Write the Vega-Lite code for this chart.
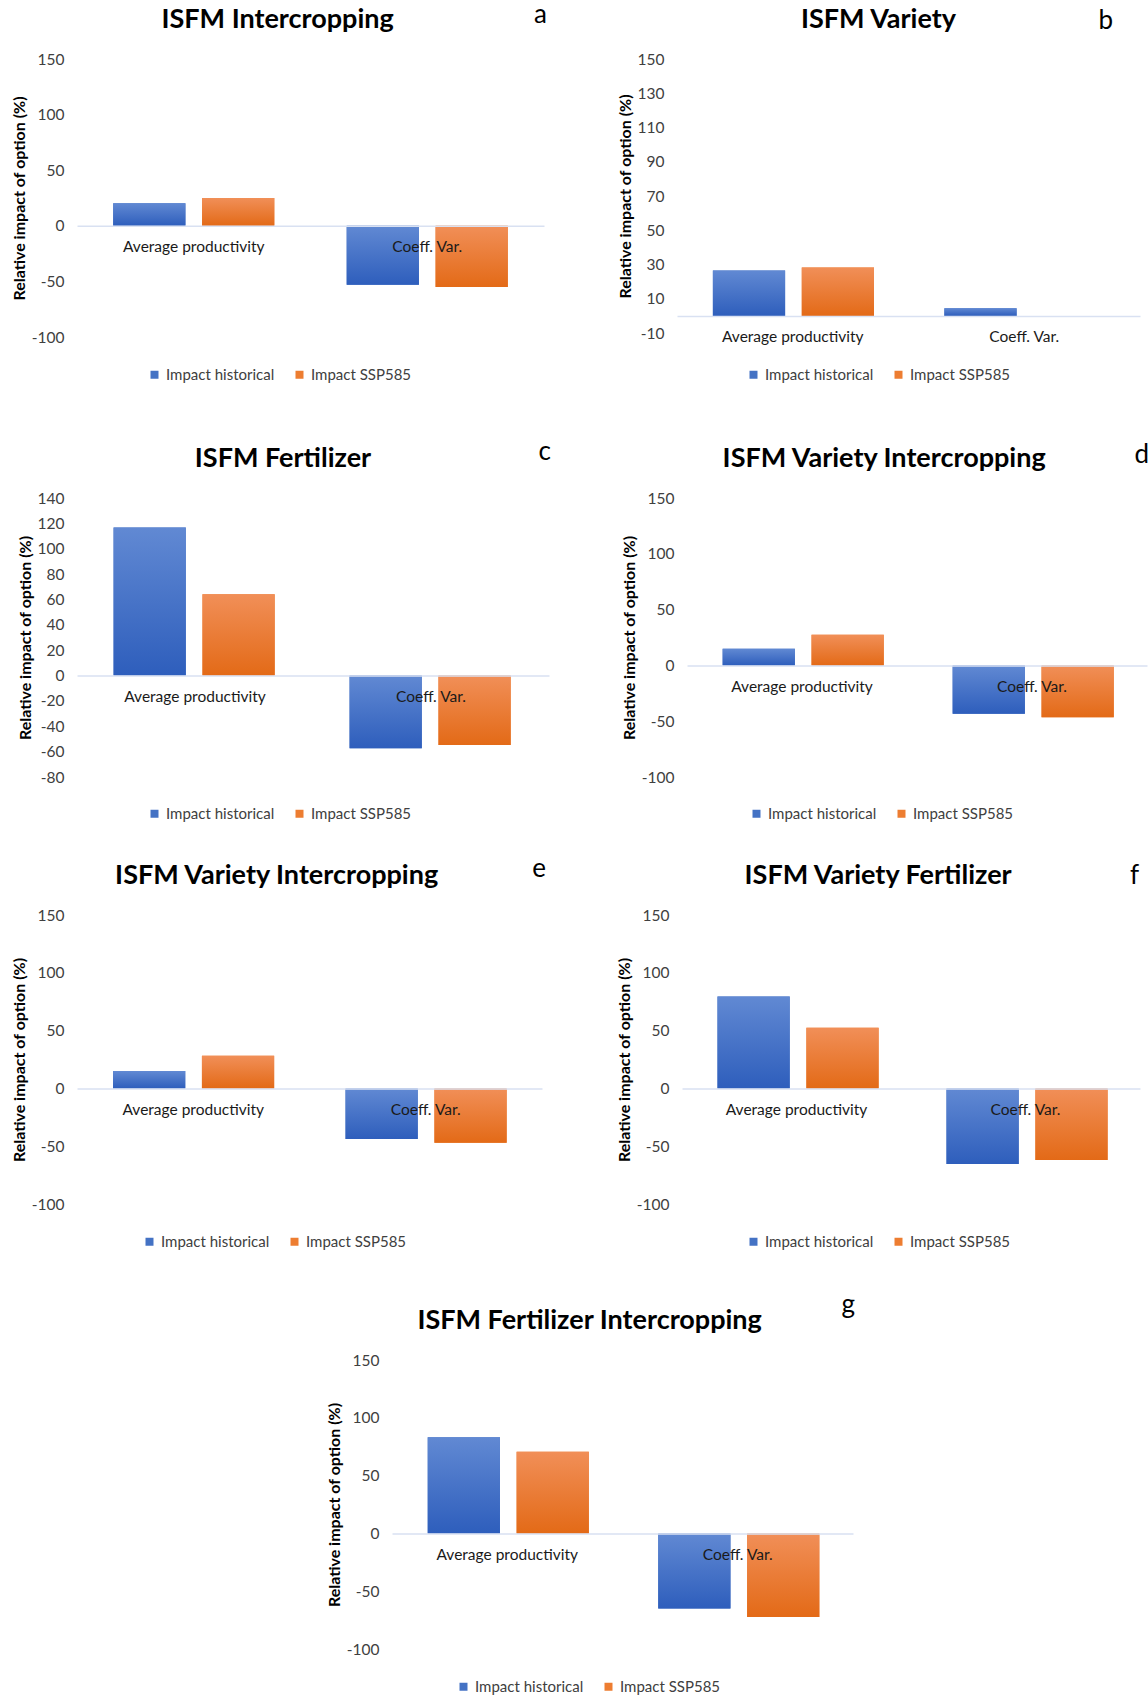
{
  "$schema": "https://vega.github.io/schema/vega-lite/v6.json",
  "background": "white",
  "padding": {"left": 11, "top": 2, "right": 5, "bottom": 5},
  "data": {"values": [
    {"panel": "a", "metric": "Average productivity", "series": "Impact historical", "value": 20.3},
    {"panel": "a", "metric": "Average productivity", "series": "Impact SSP585", "value": 25.1},
    {"panel": "a", "metric": "Coeff. Var.", "series": "Impact historical", "value": -53.0},
    {"panel": "a", "metric": "Coeff. Var.", "series": "Impact SSP585", "value": -55.1},
    {"panel": "b", "metric": "Average productivity", "series": "Impact historical", "value": 26.5},
    {"panel": "b", "metric": "Average productivity", "series": "Impact SSP585", "value": 28.3},
    {"panel": "b", "metric": "Coeff. Var.", "series": "Impact historical", "value": 4.5},
    {"panel": "b", "metric": "Coeff. Var.", "series": "Impact SSP585", "value": 0.0},
    {"panel": "c", "metric": "Average productivity", "series": "Impact historical", "value": 116.7},
    {"panel": "c", "metric": "Average productivity", "series": "Impact SSP585", "value": 64.2},
    {"panel": "c", "metric": "Coeff. Var.", "series": "Impact historical", "value": -57.3},
    {"panel": "c", "metric": "Coeff. Var.", "series": "Impact SSP585", "value": -54.7},
    {"panel": "d", "metric": "Average productivity", "series": "Impact historical", "value": 15.0},
    {"panel": "d", "metric": "Average productivity", "series": "Impact SSP585", "value": 27.5},
    {"panel": "d", "metric": "Coeff. Var.", "series": "Impact historical", "value": -43.3},
    {"panel": "d", "metric": "Coeff. Var.", "series": "Impact SSP585", "value": -46.4},
    {"panel": "e", "metric": "Average productivity", "series": "Impact historical", "value": 15.0},
    {"panel": "e", "metric": "Average productivity", "series": "Impact SSP585", "value": 28.3},
    {"panel": "e", "metric": "Coeff. Var.", "series": "Impact historical", "value": -43.8},
    {"panel": "e", "metric": "Coeff. Var.", "series": "Impact SSP585", "value": -47.0},
    {"panel": "f", "metric": "Average productivity", "series": "Impact historical", "value": 79.6},
    {"panel": "f", "metric": "Average productivity", "series": "Impact SSP585", "value": 52.5},
    {"panel": "f", "metric": "Coeff. Var.", "series": "Impact historical", "value": -65.5},
    {"panel": "f", "metric": "Coeff. Var.", "series": "Impact SSP585", "value": -61.9},
    {"panel": "g", "metric": "Average productivity", "series": "Impact historical", "value": 83.2},
    {"panel": "g", "metric": "Average productivity", "series": "Impact SSP585", "value": 70.7},
    {"panel": "g", "metric": "Coeff. Var.", "series": "Impact historical", "value": -65.0},
    {"panel": "g", "metric": "Coeff. Var.", "series": "Impact SSP585", "value": -72.3}
  ]},
  "spacing": 34,
  "resolve": {"scale": {"color": "independent"}, "legend": {"color": "independent"}},
  "vconcat": [
    {"spacing": 70, "resolve": {"scale": {"color": "independent"}, "legend": {"color": "independent"}}, "hconcat": [
      {"title": {"text": "a", "anchor": "end", "offset": -22, "dx": 3, "fontSize": 26, "fontWeight": "normal"},
       "resolve": {"scale": {"color": "independent"}, "legend": {"color": "independent"}},
       "vconcat": [{
        "title": {"text": "ISFM Intercropping"},
        "transform": [{"filter": "datum.panel === 'a'"}],
        "width": 467, "height": 278,
        "encoding": {
          "x": {"field": "metric", "type": "nominal", "sort": ["Average productivity", "Coeff. Var."], "scale": {"paddingInner": 0.31, "paddingOuter": 0.155}, "axis": {"offset": -111.2, "zindex": 1}},
          "xOffset": {"field": "series", "type": "nominal", "sort": ["Impact historical", "Impact SSP585"], "scale": {"paddingInner": 0.1875, "paddingOuter": 0}},
          "y": {"field": "value", "type": "quantitative", "title": "Relative impact of option (%)", "scale": {"domain": [-100, 150], "nice": false, "zero": false}, "axis": {"values": [-100, -50, 0, 50, 100, 150]}}
        },
        "layer": [
          {"mark": "bar", "encoding": {"color": {"field": "series", "type": "nominal", "scale": {"domain": ["Impact historical", "Impact SSP585"], "range": ["#4472c4", "#ed7d31"]}, "legend": {"legendX": 48, "legendY": 286, "padding": 22}}}},
          {"mark": "bar", "encoding": {"fill": {"condition": {"test": "datum.series === 'Impact historical'", "value": {"gradient": "linear", "x1": 0, "y1": 0, "x2": 0, "y2": 1, "stops": [{"offset": 0, "color": "#6189d3"}, {"offset": 1, "color": "#2e5ebc"}]}}, "value": {"gradient": "linear", "x1": 0, "y1": 0, "x2": 0, "y2": 1, "stops": [{"offset": 0, "color": "#f18f58"}, {"offset": 1, "color": "#e36a17"}]}}}}
        ]
      }]},
      {"title": {"text": "b", "anchor": "end", "offset": -28, "dx": -27, "fontSize": 26, "fontWeight": "normal"},
       "resolve": {"scale": {"color": "independent"}, "legend": {"color": "independent"}},
       "vconcat": [{
        "title": {"text": "ISFM Variety"},
        "transform": [{"filter": "datum.panel === 'b'"}],
        "width": 463, "height": 274,
        "encoding": {
          "x": {"field": "metric", "type": "nominal", "sort": ["Average productivity", "Coeff. Var."], "scale": {"paddingInner": 0.31, "paddingOuter": 0.155}, "axis": {"offset": -17.1, "zindex": 1}},
          "xOffset": {"field": "series", "type": "nominal", "sort": ["Impact historical", "Impact SSP585"], "scale": {"paddingInner": 0.1875, "paddingOuter": 0}},
          "y": {"field": "value", "type": "quantitative", "title": "Relative impact of option (%)", "scale": {"domain": [-10, 150], "nice": false, "zero": false}, "axis": {"values": [-10, 10, 30, 50, 70, 90, 110, 130, 150]}}
        },
        "layer": [
          {"mark": "bar", "encoding": {"color": {"field": "series", "type": "nominal", "scale": {"domain": ["Impact historical", "Impact SSP585"], "range": ["#4472c4", "#ed7d31"]}, "legend": {"legendX": 47, "legendY": 286, "padding": 22}}}},
          {"mark": "bar", "encoding": {"fill": {"condition": {"test": "datum.series === 'Impact historical'", "value": {"gradient": "linear", "x1": 0, "y1": 0, "x2": 0, "y2": 1, "stops": [{"offset": 0, "color": "#6189d3"}, {"offset": 1, "color": "#2e5ebc"}]}}, "value": {"gradient": "linear", "x1": 0, "y1": 0, "x2": 0, "y2": 1, "stops": [{"offset": 0, "color": "#f18f58"}, {"offset": 1, "color": "#e36a17"}]}}}}
        ]
      }]}
    ]},
    {"spacing": 70, "resolve": {"scale": {"color": "independent"}, "legend": {"color": "independent"}}, "hconcat": [
      {"title": {"text": "c", "anchor": "end", "offset": -20, "dx": 2, "fontSize": 26, "fontWeight": "normal"},
       "resolve": {"scale": {"color": "independent"}, "legend": {"color": "independent"}},
       "vconcat": [{
        "title": {"text": "ISFM Fertilizer"},
        "transform": [{"filter": "datum.panel === 'c'"}],
        "width": 472, "height": 279,
        "encoding": {
          "x": {"field": "metric", "type": "nominal", "sort": ["Average productivity", "Coeff. Var."], "scale": {"paddingInner": 0.31, "paddingOuter": 0.155}, "axis": {"offset": -101.5, "zindex": 1}},
          "xOffset": {"field": "series", "type": "nominal", "sort": ["Impact historical", "Impact SSP585"], "scale": {"paddingInner": 0.1875, "paddingOuter": 0}},
          "y": {"field": "value", "type": "quantitative", "title": "Relative impact of option (%)", "scale": {"domain": [-80, 140], "nice": false, "zero": false}, "axis": {"values": [-80, -60, -40, -20, 0, 20, 40, 60, 80, 100, 120, 140]}}
        },
        "layer": [
          {"mark": "bar", "encoding": {"color": {"field": "series", "type": "nominal", "scale": {"domain": ["Impact historical", "Impact SSP585"], "range": ["#4472c4", "#ed7d31"]}, "legend": {"legendX": 70, "legendY": 308}}}},
          {"mark": "bar", "encoding": {"fill": {"condition": {"test": "datum.series === 'Impact historical'", "value": {"gradient": "linear", "x1": 0, "y1": 0, "x2": 0, "y2": 1, "stops": [{"offset": 0, "color": "#6189d3"}, {"offset": 1, "color": "#2e5ebc"}]}}, "value": {"gradient": "linear", "x1": 0, "y1": 0, "x2": 0, "y2": 1, "stops": [{"offset": 0, "color": "#f18f58"}, {"offset": 1, "color": "#e36a17"}]}}}}
        ]
      }]},
      {"title": {"text": "d", "anchor": "end", "offset": -23, "dx": 2, "fontSize": 26, "fontWeight": "normal"},
       "resolve": {"scale": {"color": "independent"}, "legend": {"color": "independent"}},
       "vconcat": [{
        "title": {"text": "ISFM Variety Intercropping"},
        "transform": [{"filter": "datum.panel === 'd'"}],
        "width": 460, "height": 279,
        "encoding": {
          "x": {"field": "metric", "type": "nominal", "sort": ["Average productivity", "Coeff. Var."], "scale": {"paddingInner": 0.31, "paddingOuter": 0.155}, "axis": {"offset": -111.6, "zindex": 1}},
          "xOffset": {"field": "series", "type": "nominal", "sort": ["Impact historical", "Impact SSP585"], "scale": {"paddingInner": 0.1875, "paddingOuter": 0}},
          "y": {"field": "value", "type": "quantitative", "title": "Relative impact of option (%)", "scale": {"domain": [-100, 150], "nice": false, "zero": false}, "axis": {"values": [-100, -50, 0, 50, 100, 150]}}
        },
        "layer": [
          {"mark": "bar", "encoding": {"color": {"field": "series", "type": "nominal", "scale": {"domain": ["Impact historical", "Impact SSP585"], "range": ["#4472c4", "#ed7d31"]}, "legend": {"legendX": 62, "legendY": 308}}}},
          {"mark": "bar", "encoding": {"fill": {"condition": {"test": "datum.series === 'Impact historical'", "value": {"gradient": "linear", "x1": 0, "y1": 0, "x2": 0, "y2": 1, "stops": [{"offset": 0, "color": "#6189d3"}, {"offset": 1, "color": "#2e5ebc"}]}}, "value": {"gradient": "linear", "x1": 0, "y1": 0, "x2": 0, "y2": 1, "stops": [{"offset": 0, "color": "#f18f58"}, {"offset": 1, "color": "#e36a17"}]}}}}
        ]
      }]}
    ]},
    {"spacing": 70, "resolve": {"scale": {"color": "independent"}, "legend": {"color": "independent"}}, "hconcat": [
      {"title": {"text": "e", "anchor": "end", "offset": -20, "dx": 4, "fontSize": 26, "fontWeight": "normal"},
       "resolve": {"scale": {"color": "independent"}, "legend": {"color": "independent"}},
       "vconcat": [{
        "title": {"text": "ISFM Variety Intercropping"},
        "transform": [{"filter": "datum.panel === 'e'"}],
        "width": 465, "height": 289,
        "encoding": {
          "x": {"field": "metric", "type": "nominal", "sort": ["Average productivity", "Coeff. Var."], "scale": {"paddingInner": 0.31, "paddingOuter": 0.155}, "axis": {"offset": -115.6, "zindex": 1}},
          "xOffset": {"field": "series", "type": "nominal", "sort": ["Impact historical", "Impact SSP585"], "scale": {"paddingInner": 0.1875, "paddingOuter": 0}},
          "y": {"field": "value", "type": "quantitative", "title": "Relative impact of option (%)", "scale": {"domain": [-100, 150], "nice": false, "zero": false}, "axis": {"values": [-100, -50, 0, 50, 100, 150]}}
        },
        "layer": [
          {"mark": "bar", "encoding": {"color": {"field": "series", "type": "nominal", "scale": {"domain": ["Impact historical", "Impact SSP585"], "range": ["#4472c4", "#ed7d31"]}, "legend": {"legendX": 57, "legendY": 311, "padding": 8}}}},
          {"mark": "bar", "encoding": {"fill": {"condition": {"test": "datum.series === 'Impact historical'", "value": {"gradient": "linear", "x1": 0, "y1": 0, "x2": 0, "y2": 1, "stops": [{"offset": 0, "color": "#6189d3"}, {"offset": 1, "color": "#2e5ebc"}]}}, "value": {"gradient": "linear", "x1": 0, "y1": 0, "x2": 0, "y2": 1, "stops": [{"offset": 0, "color": "#f18f58"}, {"offset": 1, "color": "#e36a17"}]}}}}
        ]
      }]},
      {"title": {"text": "f", "anchor": "end", "offset": -27, "dx": -1, "fontSize": 26, "fontWeight": "normal"},
       "resolve": {"scale": {"color": "independent"}, "legend": {"color": "independent"}},
       "vconcat": [{
        "title": {"text": "ISFM Variety Fertilizer"},
        "transform": [{"filter": "datum.panel === 'f'"}],
        "width": 458, "height": 289,
        "encoding": {
          "x": {"field": "metric", "type": "nominal", "sort": ["Average productivity", "Coeff. Var."], "scale": {"paddingInner": 0.31, "paddingOuter": 0.155}, "axis": {"offset": -115.6, "zindex": 1}},
          "xOffset": {"field": "series", "type": "nominal", "sort": ["Impact historical", "Impact SSP585"], "scale": {"paddingInner": 0.1875, "paddingOuter": 0}},
          "y": {"field": "value", "type": "quantitative", "title": "Relative impact of option (%)", "scale": {"domain": [-100, 150], "nice": false, "zero": false}, "axis": {"values": [-100, -50, 0, 50, 100, 150]}}
        },
        "layer": [
          {"mark": "bar", "encoding": {"color": {"field": "series", "type": "nominal", "scale": {"domain": ["Impact historical", "Impact SSP585"], "range": ["#4472c4", "#ed7d31"]}, "legend": {"legendX": 56, "legendY": 311, "padding": 8}}}},
          {"mark": "bar", "encoding": {"fill": {"condition": {"test": "datum.series === 'Impact historical'", "value": {"gradient": "linear", "x1": 0, "y1": 0, "x2": 0, "y2": 1, "stops": [{"offset": 0, "color": "#6189d3"}, {"offset": 1, "color": "#2e5ebc"}]}}, "value": {"gradient": "linear", "x1": 0, "y1": 0, "x2": 0, "y2": 1, "stops": [{"offset": 0, "color": "#f18f58"}, {"offset": 1, "color": "#e36a17"}]}}}}
        ]
      }]}
    ]},
    {"spacing": 248, "resolve": {"scale": {"color": "independent"}, "legend": {"color": "independent"}}, "hconcat": [
      {"width": 1, "height": 1, "data": {"values": []}, "mark": {"type": "point", "opacity": 0}},
      {"title": {"text": "g", "anchor": "end", "offset": -11, "dx": 2, "fontSize": 26, "fontWeight": "normal"},
       "resolve": {"scale": {"color": "independent"}, "legend": {"color": "independent"}},
       "vconcat": [{
        "title": {"text": "ISFM Fertilizer Intercropping"},
        "transform": [{"filter": "datum.panel === 'g'"}],
        "width": 461, "height": 289,
        "encoding": {
          "x": {"field": "metric", "type": "nominal", "sort": ["Average productivity", "Coeff. Var."], "scale": {"paddingInner": 0.31, "paddingOuter": 0.155}, "axis": {"offset": -115.6, "zindex": 1}},
          "xOffset": {"field": "series", "type": "nominal", "sort": ["Impact historical", "Impact SSP585"], "scale": {"paddingInner": 0.1875, "paddingOuter": 0}},
          "y": {"field": "value", "type": "quantitative", "title": "Relative impact of option (%)", "scale": {"domain": [-100, 150], "nice": false, "zero": false}, "axis": {"values": [-100, -50, 0, 50, 100, 150]}}
        },
        "layer": [
          {"mark": "bar", "encoding": {"color": {"field": "series", "type": "nominal", "scale": {"domain": ["Impact historical", "Impact SSP585"], "range": ["#4472c4", "#ed7d31"]}, "legend": {"legendX": 64, "legendY": 319}}}},
          {"mark": "bar", "encoding": {"fill": {"condition": {"test": "datum.series === 'Impact historical'", "value": {"gradient": "linear", "x1": 0, "y1": 0, "x2": 0, "y2": 1, "stops": [{"offset": 0, "color": "#6189d3"}, {"offset": 1, "color": "#2e5ebc"}]}}, "value": {"gradient": "linear", "x1": 0, "y1": 0, "x2": 0, "y2": 1, "stops": [{"offset": 0, "color": "#f18f58"}, {"offset": 1, "color": "#e36a17"}]}}}}
        ]
      }]}
    ]}
  ],
  "config": {
    "font": "Lato",
    "view": {"stroke": null},
    "title": {"fontSize": 27, "fontWeight": "bold", "color": "#000000", "offset": 18, "frame": "bounds"},
    "axisX": {"title": null, "labelAngle": 0, "ticks": false, "domainColor": "#d9e1f2", "domainWidth": 1.5, "labelPadding": 14, "labelFontSize": 15.5, "labelColor": "#1a1a1a"},
    "axisY": {"grid": false, "domain": false, "ticks": false, "labelPadding": 13, "labelFontSize": 15.5, "labelColor": "#404040", "labelExpr": "replace(datum.label, '\u2212', '-')", "titleFontSize": 16, "titleFontWeight": "bold", "titleColor": "#000000", "titlePadding": 4},
    "legend": {"orient": "none", "direction": "horizontal", "title": null, "symbolType": "square", "symbolSize": 64, "symbolStrokeWidth": 0, "labelFontSize": 15, "labelColor": "#404040", "columnPadding": 17, "labelOffset": 4}
  }
}
